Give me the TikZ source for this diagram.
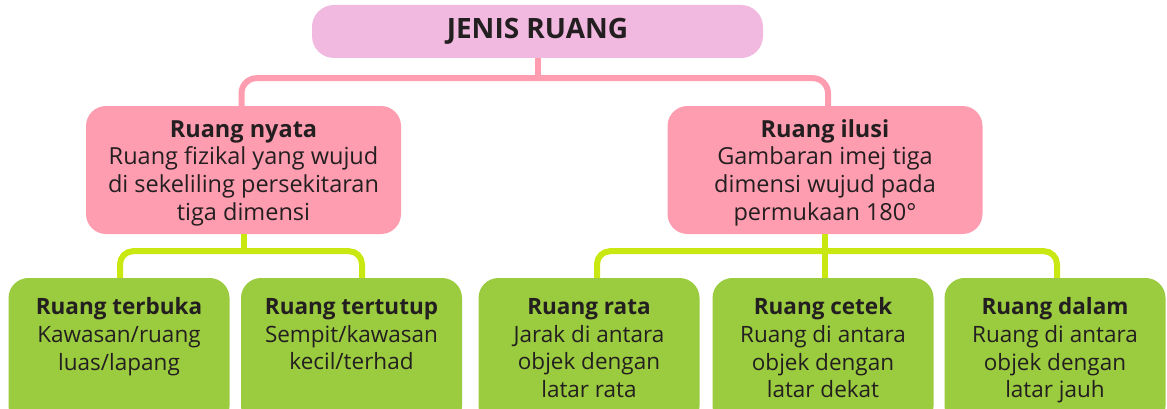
\documentclass[tikz,border=0pt]{standalone}
\usepackage{fontspec}
\setmainfont{Open Sans}
\definecolor{topfill}{HTML}{F2B9E0}
\definecolor{midfill}{HTML}{FF9DB0}
\definecolor{pinkline}{HTML}{FF9DB0}
\definecolor{greenfill}{HTML}{9BCB3E}
\definecolor{greenline}{HTML}{C9E710}
\definecolor{txt}{HTML}{231F20}
\tikzset{
  topbox/.style={draw=none, fill=topfill, rounded corners=22pt, minimum width=451pt, minimum height=53pt, text=txt, font=\fontsize{28}{30}\selectfont\bfseries},
  midbox/.style={draw=none, fill=midfill, rounded corners=20pt, minimum width=315pt, minimum height=128pt, text=txt, align=center, font=\fontsize{23.5}{27.8}\selectfont},
  leafbox/.style={draw=none, fill=greenfill, rounded corners=20pt, minimum width=221pt, minimum height=148pt, text=txt, align=center, font=\fontsize{22.5}{27.7}\selectfont},
  pinkconn/.style={draw=pinkline, line width=6pt, rounded corners=15pt},
  greenconn/.style={draw=greenline, line width=6pt, rounded corners=13pt},
}
\newcommand{\firstup}{\rule{0pt}{26pt}}
\begin{document}
\begin{tikzpicture}[x=1pt,y=1pt]
\useasboundingbox (0,0) rectangle (1167,408);
\clip (0,0) rectangle (1167,408);
\node[topbox] (top) at (537.5,376.5) {JENIS RUANG};
\node[midbox] (nyata) at (243.5,238) {\firstup\textbf{Ruang nyata}\\Ruang fizikal yang wujud\\di sekeliling persekitaran\\tiga dimensi\strut};
\node[midbox] (ilusi) at (825,238) {\firstup\textbf{Ruang ilusi}\\Gambaran imej tiga\\dimensi wujud pada\\permukaan 180\textdegree\strut};
\node[leafbox] (terbuka) at (119,56) {\textbf{Ruang terbuka}\\Kawasan/ruang\\luas/lapang\\\strut};
\node[leafbox] (tertutup) at (351.5,56) {\textbf{Ruang tertutup}\\Sempit/kawasan\\kecil/terhad\\\strut};
\node[leafbox] (rata) at (589,56) {\textbf{Ruang rata}\\Jarak di antara\\objek dengan\\latar rata\strut};
\node[leafbox] (cetek) at (823,56) {\textbf{Ruang cetek}\\Ruang di antara\\objek dengan\\latar dekat\strut};
\node[leafbox] (dalam) at (1055,56) {\textbf{Ruang dalam}\\Ruang di antara\\objek dengan\\latar jauh\strut};
% junction points
\coordinate (pj) at ([yshift=-20pt]top.south);
\coordinate (gjl) at ([yshift=-17pt]nyata.south);
\coordinate (gjr) at ([yshift=-17pt]ilusi.south);
% connectors
\draw[pinkconn] (top.south) -- (pj);
\draw[pinkconn] ([xshift=-2pt]nyata.north) |- (pj) -| ([xshift=3pt]ilusi.north);
\draw[greenconn] (nyata.south) -- (gjl);
\draw[greenconn] ([xshift=1pt]terbuka.north) |- (gjl) -| ([xshift=10.5pt]tertutup.north);
\draw[greenconn] (ilusi.south) -- (cetek.north -| ilusi.south);
\draw[greenconn] ([xshift=8pt]rata.north) |- (gjr) -| ([xshift=2pt]dalam.north);
\end{tikzpicture}
\end{document}
